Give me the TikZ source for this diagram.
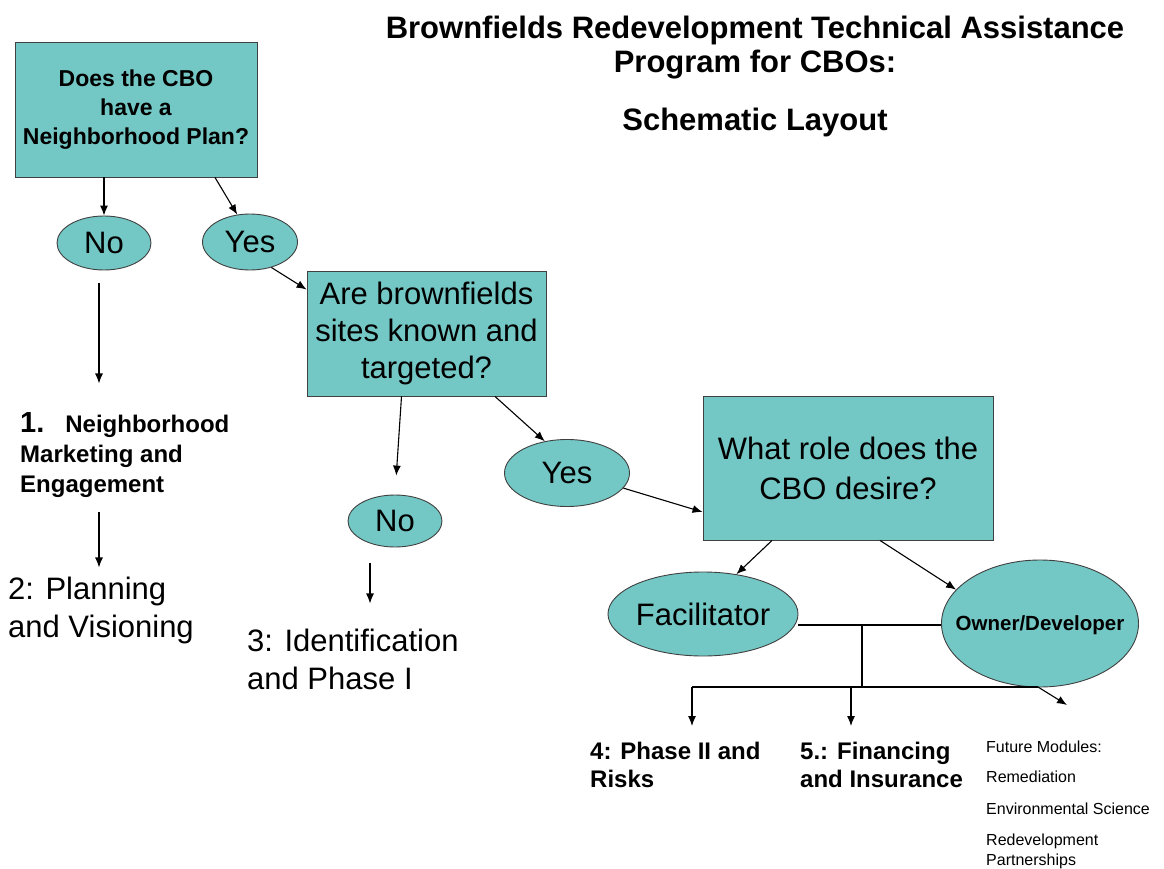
\documentclass[tikz,border=0pt]{standalone}
\usepackage{fontspec}
\setmainfont{Liberation Sans}
\usepackage{tikz}
\usetikzlibrary{arrows.meta,positioning,shapes.geometric}

\definecolor{cbofill}{RGB}{115,199,196}
\newcommand{\fsz}[2]{\fontsize{#1}{#2}\selectfont}

\tikzset{
  qbox/.style = {rectangle, draw = black!75, fill = cbofill, align = center, inner sep = 0pt, line width = 0.9pt},
  answer/.style = {ellipse, draw = black!75, fill = cbofill, inner sep = 0pt, line width = 0.9pt},
  stagetext/.style = {anchor = base west, align = left, inner sep = 0pt},
  flow/.style = {-{Latex[length=10pt, width=8pt]}, line width = 1.1pt}
}

\begin{document}
\begin{tikzpicture}[x=1pt, y=-1pt]
\fill[white] (0,0) rectangle (1164,869);
\useasboundingbox (0,0) rectangle (1164,869);

\node[anchor = base, align = center, inner sep = 0pt, font = \fsz{31}{34}\bfseries] (title) at (755,131) {Brownfields Redevelopment Technical Assistance\\Program for CBOs:\\[24pt]Schematic Layout};

\node[qbox, minimum width = 242pt, minimum height = 135pt, font = \fsz{23}{29}\bfseries] (plan) at (136,109.5) {Does the CBO\\have a\\Neighborhood Plan?};
\node[answer, minimum width = 94pt, minimum height = 54pt, font = \fsz{31}{37}] (no1) at (104,243) {No};
\node[answer, minimum width = 95pt, minimum height = 56pt, font = \fsz{31}{37}] (yes1) at (250,242) {Yes};
\node[qbox, minimum width = 239pt, minimum height = 125pt, font = \fsz{31}{37}] (sites) at (426.5,333.5) {Are brownfields\\sites known and\\targeted?};
\node[answer, minimum width = 94pt, minimum height = 52pt, font = \fsz{31}{37}] (no2) at (395,521) {No};
\node[answer, minimum width = 125pt, minimum height = 67pt, font = \fsz{31}{37}] (yes2) at (567,473) {Yes};
\node[qbox, minimum width = 290pt, minimum height = 144pt, font = \fsz{31}{40}] (role) at (848,468) {What role does the\\CBO desire?};
\node[answer, minimum width = 189pt, minimum height = 84pt, font = \fsz{31}{37}] (fac) at (703,614) {Facilitator};
\node[answer, minimum width = 197pt, minimum height = 127pt, label = {[font = \fsz{20.5}{25}\bfseries, yshift = -1.5pt]center:Owner/Developer}] (own) at (1040,623.5) {};

\node[stagetext, font = \fsz{24}{30}\bfseries] (stage1) at (20,492) {{\fsz{29}{30}1.}\hspace{21pt}Neighborhood\\Marketing and\\Engagement};
\node[stagetext, font = \fsz{31}{38}] (stage2) at (8,637) {2: Planning\\and Visioning};
\node[stagetext, font = \fsz{31}{38}] (stage3) at (247,689) {3: Identification\\and Phase I};
\node[stagetext, font = \fsz{24}{28}\bfseries] (stage4) at (590,787) {4: Phase II and\\Risks};
\node[stagetext, font = \fsz{24}{28}\bfseries] (stage5) at (800,787) {5.: Financing\\and Insurance};
\node[stagetext, font = \fsz{16}{20}] (future) at (986,865) {Future Modules:\\[10pt]Remediation\\[12pt]Environmental Science\\[11pt]Redevelopment\\Partnerships};

\draw[flow] (no1 |- plan.south) -- (no1.north);
\draw[flow] ([xshift=79pt]plan.south) -- (yes1.115);
\draw[flow] ([shift={(-5,13)}]no1.south) -- ++(0,100);
\draw[flow] ([shift={(-5,242)}]no1.south) -- ++(0,55);
\draw[flow] (yes1.-50) -- ([yshift=-19pt]sites.north west);
\draw[flow, shorten >=19pt] ([xshift=-25pt]sites.south) -- (no2.north);
\draw[flow] ([shift={(-25,16)}]no2.south) -- ++(0,40);
\draw[flow] ([xshift=68.5pt]sites.south) -- (yes2.125);
\draw[flow] (yes2.-15) -- ([yshift=-44pt]role.west);
\draw[flow] ([xshift=-76pt]role.south) -- (fac.50);
\draw[flow] ([xshift=32pt]role.south) -- (own.158);

\coordinate (hub) at (862,625);
\coordinate (split) at (862,687);
\coordinate (left) at (692,687);
\coordinate (mid) at (851,687);
\coordinate (right) at (1038,687);
\draw[line width = 1.1pt] (fac.east |- hub) -- (own.west |- hub);
\draw[line width = 1.1pt] (hub) -- (split);
\draw[line width = 1.1pt] (left) -- (right);
\draw[flow] (left) -- ++(0,39);
\draw[flow] (mid) -- ++(0,39);
\draw[flow] (right) -- ++(29,18);
\end{tikzpicture}
\end{document}
